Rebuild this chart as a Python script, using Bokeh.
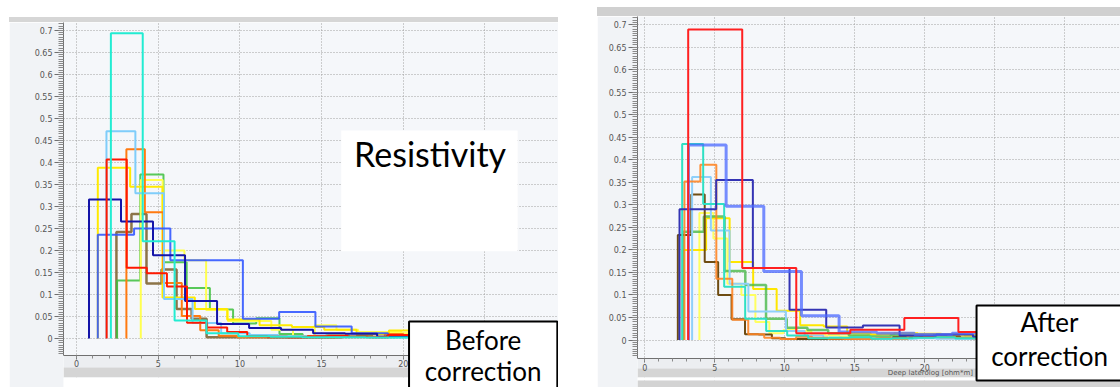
from bokeh.plotting import figure
from bokeh.models import FixedTicker, Label, BoxAnnotation, Spacer, Range1d
from bokeh.layouts import row, column
from bokeh.embed import file_html
from bokeh.resources import INLINE
import numpy as np

# ---------------- data: left panel (before correction) ----------------
L_CYAN_EDGES = [2.1, 4.05, 6.0, 7.95, 9.9, 11.85, 13.8, 15.75, 17.7, 19.65, 21.6]
L_CYAN_VALS = [0.694, 0.221, 0.041, 0.012, 0.005, 0.004, 0.003, 0.003, 0.002, 0.002]
L_NAVY_EDGES = [0.76, 2.72, 4.68, 6.64, 8.6, 10.56, 12.52, 14.48, 16.44, 18.4, 20.36, 22.32]
L_NAVY_VALS = [0.316, 0.266, 0.189, 0.085, 0.033, 0.024, 0.02, 0.012, 0.011, 0.004, 0.003]
L_BLUE_EDGES = [1.3, 3.52, 5.74, 7.96, 10.18, 12.4, 14.62, 16.84, 19.06, 21.28]
L_BLUE_VALS = [0.236, 0.25, 0.178, 0.178, 0.045, 0.06, 0.027, 0.012, 0.008]
L_SKY_EDGES = [1.83, 3.6, 5.35, 7.1, 8.85, 10.6, 12.35, 14.1, 15.85, 17.6, 19.35, 21.1]
L_SKY_VALS = [0.471, 0.33, 0.09, 0.035, 0.012, 0.008, 0.005, 0.004, 0.003, 0.003, 0.002]
L_RED_EDGES = [1.84, 3.07, 4.3, 5.53, 6.76, 7.99, 9.22, 10.45, 11.68, 12.91, 14.14,
               15.37, 16.6, 17.83, 19.06, 20.29, 21.52]
L_RED_VALS = [0.407, 0.161, 0.148, 0.118, 0.036, 0.025, 0.015, 0.005, 0.004, 0.003,
              0.005, 0.006, 0.004, 0.003, 0.008, 0.006]
L_ORANGE_EDGES = [3.05, 4.18, 5.31, 6.44, 7.57, 8.7, 9.83, 10.96, 12.09, 13.22, 14.35,
                  15.48, 16.61, 17.74, 18.87, 20.0, 21.13]
L_ORANGE_VALS = [0.43, 0.287, 0.126, 0.051, 0.019, 0.006, 0.003, 0.003, 0.004, 0.005,
                 0.004, 0.003, 0.003, 0.004, 0.01, 0.008]
L_YELLOW_EDGES = [1.3, 3.28, 5.26, 7.24, 9.22, 11.2, 13.18, 15.16, 17.14, 19.12, 21.1]
L_YELLOW_VALS = [0.388, 0.345, 0.093, 0.067, 0.043, 0.03, 0.026, 0.02, 0.01, 0.018]
L_PALEY_EDGES = [3.93, 5.27, 6.6, 7.93, 9.26, 10.59, 11.92, 13.25, 14.58, 15.91, 17.24,
                 18.57, 19.9, 21.23]
L_PALEY_VALS = [0.36, 0.2, 0.178, 0.065, 0.04, 0.04, 0.02, 0.005, 0.03, 0.02, 0.015,
                0.015, 0.012]
L_GREEN_EDGES = [2.48, 3.9, 5.32, 6.74, 8.16, 9.58, 11.0, 12.42, 13.84, 15.26, 16.68,
                 18.1, 19.52, 20.94]
L_GREEN_VALS = [0.132, 0.373, 0.173, 0.115, 0.066, 0.034, 0.046, 0.01, 0.005, 0.007,
                0.004, 0.003, 0.005]
L_BROWN_EDGES = [2.44, 3.36, 4.28, 5.2, 6.12, 7.04, 7.96, 8.88, 9.8, 10.72, 11.64, 12.56,
                 13.48, 14.4, 15.32, 16.24, 17.16, 18.08, 19.0, 19.92, 20.84]
L_BROWN_VALS = [0.242, 0.283, 0.125, 0.157, 0.067, 0.045, 0.003, 0.003, 0.003, 0.003,
                0.002, 0.002, 0.002, 0.002, 0.002, 0.004, 0.006, 0.01, 0.006, 0.004]

# ---------------- data: right panel (after correction) ----------------
R_RED_EDGES = [3.1, 6.96, 10.82, 14.68, 18.54, 22.4, 26.26]
R_RED_VALS = [0.689, 0.16, 0.015, 0.023, 0.049, 0.018]
R_BLUE_EDGES = [3.12, 5.81, 8.5, 11.19, 13.88, 16.57, 19.26, 21.95, 24.64]
R_BLUE_VALS = [0.433, 0.297, 0.152, 0.054, 0.018, 0.015, 0.012, 0.015]
R_NAVY_EDGES = [2.48, 5.1, 7.72, 10.34, 12.96, 15.58, 18.2, 20.82, 23.44, 26.06]
R_NAVY_VALS = [0.29, 0.355, 0.16, 0.067, 0.028, 0.032, 0.01, 0.012, 0.008]
R_CYAN_EDGES = [2.67, 4.17, 5.67, 7.17, 8.67, 10.17, 11.67, 13.17, 14.67, 16.17, 17.67,
                19.17, 20.67, 22.17, 23.67, 25.17]
R_CYAN_VALS = [0.435, 0.302, 0.118, 0.047, 0.02, 0.01, 0.004, 0.005, 0.006, 0.003,
               0.004, 0.005, 0.006, 0.004, 0.003]
R_ORANGE_EDGES = [2.83, 3.97, 5.11, 6.25, 7.39, 8.53, 9.67, 10.81, 11.95, 13.09, 14.23,
                  15.37, 16.51, 17.65, 18.79, 19.93, 21.07, 22.21, 23.35, 24.49]
R_ORANGE_VALS = [0.352, 0.389, 0.136, 0.045, 0.013, 0.005, 0.002, 0.007, 0.005, 0.003,
                 0.002, 0.002, 0.004, 0.003, 0.01, 0.008, 0.006, 0.005, 0.004]
R_SKY_EDGES = [3.38, 4.72, 6.06, 7.4, 8.74, 10.08, 11.42, 12.76, 14.1, 15.44, 16.78,
               18.12, 19.46, 20.8, 22.14, 23.48, 24.82]
R_SKY_VALS = [0.362, 0.243, 0.125, 0.063, 0.063, 0.02, 0.01, 0.005, 0.004, 0.003, 0.002,
              0.003, 0.004, 0.003, 0.002, 0.002]
R_BROWN_EDGES = [2.36, 3.32, 4.28, 5.24, 6.2, 7.16, 8.12, 9.08, 10.04, 11.0, 11.96,
                 12.92, 13.88, 14.84, 15.8, 16.76, 17.72, 18.68, 19.64, 20.6, 21.56,
                 22.52, 23.48, 24.44]
R_BROWN_VALS = [0.233, 0.323, 0.173, 0.1, 0.046, 0.013, 0.012, 0.004, 0.002, 0.002,
                0.002, 0.002, 0.002, 0.003, 0.002, 0.003, 0.006, 0.005, 0.006, 0.01,
                0.008, 0.004, 0.003]
R_GREEN_EDGES = [2.74, 4.22, 5.7, 7.18, 8.66, 10.14, 11.62, 13.1, 14.58, 16.06, 17.54,
                 19.02, 20.5, 21.98, 23.46, 24.94]
R_GREEN_VALS = [0.24, 0.274, 0.153, 0.122, 0.047, 0.027, 0.022, 0.015, 0.01, 0.008,
                0.01, 0.007, 0.006, 0.005, 0.004]
R_YELLOW_EDGES = [2.7, 4.38, 6.06, 7.74, 9.42, 11.1, 12.78, 14.46, 16.14, 17.82, 19.5,
                  21.18, 22.86, 24.54]
R_YELLOW_VALS = [0.2, 0.27, 0.173, 0.113, 0.065, 0.033, 0.03, 0.015, 0.012, 0.015,
                 0.014, 0.013, 0.01]
R_PALEY_EDGES = [3.9, 4.9, 5.9, 6.9, 7.9, 8.9, 9.9, 10.9, 11.9, 12.9, 13.9, 14.9, 15.9,
                 16.9, 17.9, 18.9, 19.9, 20.9, 21.9, 22.9, 23.9, 24.9]
R_PALEY_VALS = [0.282, 0.225, 0.125, 0.1, 0.04, 0.015, 0.022, 0.02, 0.012, 0.01, 0.008,
                0.01, 0.012, 0.015, 0.013, 0.012, 0.01, 0.008, 0.01, 0.012, 0.01]

Y_TICKS = [0, 0.05, 0.1, 0.15, 0.2, 0.25, 0.3, 0.35, 0.4, 0.45, 0.5, 0.55, 0.6, 0.65, 0.7]
Y_TICK_LABELS = ["0", "0.05", "0.1", "0.15", "0.2", "0.25", "0.3", "0.35", "0.4",
                 "0.45", "0.5", "0.55", "0.6", "0.65", "0.7"]
X_TICKS = [0, 5, 10, 15, 20]
X_TICK_LABELS = ["0", "5", "10", "15", "20"]
X_GRID = [0, 5, 10, 15, 20, 25, 30]

LEFT_SERIES = [
    (L_BROWN_EDGES, L_BROWN_VALS, "#8c7448", 2.5, 1.0),
    (L_GREEN_EDGES, L_GREEN_VALS, "#3cc03c", 2.0, 0.85),
    (L_PALEY_EDGES, L_PALEY_VALS, "#ffff50", 2.0, 1.0),
    (L_YELLOW_EDGES, L_YELLOW_VALS, "#ffea00", 2.0, 1.0),
    (L_ORANGE_EDGES, L_ORANGE_VALS, "#ff7a10", 2.0, 1.0),
    (L_SKY_EDGES, L_SKY_VALS, "#7fcdfa", 2.0, 1.0),
    (L_BLUE_EDGES, L_BLUE_VALS, "#3358ff", 2.0, 0.9),
    (L_NAVY_EDGES, L_NAVY_VALS, "#1414a8", 2.0, 1.0),
    (L_RED_EDGES, L_RED_VALS, "#ff1800", 2.0, 1.0),
    (L_CYAN_EDGES, L_CYAN_VALS, "#22ecd2", 2.0, 1.0),
]
RIGHT_SERIES = [
    (R_PALEY_EDGES, R_PALEY_VALS, "#ffff60", 2.0, 1.0),
    (R_YELLOW_EDGES, R_YELLOW_VALS, "#ffe600", 2.0, 1.0),
    (R_GREEN_EDGES, R_GREEN_VALS, "#48b848", 2.5, 0.8),
    (R_BROWN_EDGES, R_BROWN_VALS, "#6e4c12", 2.0, 1.0),
    (R_SKY_EDGES, R_SKY_VALS, "#8fd0fa", 2.0, 1.0),
    (R_ORANGE_EDGES, R_ORANGE_VALS, "#ff8424", 2.0, 0.9),
    (R_CYAN_EDGES, R_CYAN_VALS, "#2ee0c4", 2.0, 1.0),
    (R_NAVY_EDGES, R_NAVY_VALS, "#3434b4", 2.0, 1.0),
    (R_BLUE_EDGES, R_BLUE_VALS, "#4a68ff", 3.0, 0.75),
    (R_RED_EDGES, R_RED_VALS, "#ff2020", 2.0, 1.0),
]

BOX_FONT = "Lato"


def outline(edges, vals):
    xs = [edges[0]]
    ys = [0.0]
    for i, v in enumerate(vals):
        xs += [edges[i], edges[i + 1]]
        ys += [v, v]
    xs.append(edges[len(vals)])
    ys.append(0.0)
    return xs, ys


def make_panel(width, height, left_border, xr, yr, axis_y, series, x_minor_max, bands):
    p = figure(width=width, height=height, output_backend="svg", toolbar_location=None,
               x_range=Range1d(*xr), y_range=Range1d(*yr))
    p.min_border_left = left_border
    p.min_border_right = 0
    p.min_border_top = 0
    p.min_border_bottom = 0
    p.background_fill_color = "#f5f7fa"
    p.border_fill_color = "#f1f3f6"
    p.outline_line_color = None

    p.xgrid.ticker = FixedTicker(ticks=X_GRID)
    p.ygrid.ticker = FixedTicker(ticks=Y_TICKS)
    for g in (p.xgrid[0], p.ygrid[0]):
        g.grid_line_color = "#a0a0a0"
        g.grid_line_dash = "1 2"
        g.grid_line_width = 1

    # bands below the x axis (area outside the plotting region of the original)
    for top, bottom, color in bands:
        p.add_layout(BoxAnnotation(top=top, bottom=bottom, fill_color=color,
                                   fill_alpha=1.0, line_color=None, level="underlay"))

    yminor = list(np.round(np.arange(-0.035, 0.716, 0.005), 4))
    p.yaxis.ticker = FixedTicker(ticks=Y_TICKS, minor_ticks=yminor)
    p.yaxis.major_label_overrides = {t: s for t, s in zip(Y_TICKS, Y_TICK_LABELS)}
    p.yaxis.bounds = (axis_y, yr[1])
    xminor = list(np.arange(0.0, x_minor_max + 0.5, 1.0))
    p.xaxis.ticker = FixedTicker(ticks=X_TICKS, minor_ticks=xminor)
    p.xaxis.major_label_overrides = {t: s for t, s in zip(X_TICKS, X_TICK_LABELS)}
    p.xaxis.fixed_location = axis_y

    for ax in (p.xaxis[0], p.yaxis[0]):
        ax.axis_line_color = "#707070"
        ax.major_tick_line_color = "#707070"
        ax.minor_tick_line_color = "#8a8a8a"
        ax.major_label_text_font = "DejaVu Sans"
        ax.major_label_text_font_size = "8px"
        ax.major_label_text_color = "#555555"
        ax.major_label_standoff = 2
    p.yaxis.major_tick_out = 9
    p.yaxis.major_tick_in = 0
    p.yaxis.minor_tick_out = 5
    p.yaxis.minor_tick_in = 0
    p.xaxis.major_tick_out = 4
    p.xaxis.major_tick_in = 0
    p.xaxis.minor_tick_out = 3
    p.xaxis.minor_tick_in = 0
    p.xaxis.major_label_standoff = 1

    for edges, vals, color, lw, alpha in series:
        xs, ys = outline(edges, vals)
        p.line(xs, ys, line_color=color, line_width=lw, line_alpha=alpha)
    return p


# ---- left panel: frame 22..387 px, x=0 at px 76, 16.27 px/unit, y=0 at px 338 ----
left = make_panel(549, 365, 54, (-0.8, 29.5), (-0.1114, 0.7182), -0.0386,
                  LEFT_SERIES, 29,
                  [(-0.0386, -0.0659, "#eceef1"), (-0.0659, -0.0886, "#d5d5d5"),
                   (-0.0886, None, "#ffffff")])
left.add_layout(BoxAnnotation(left=16.2, right=27.0, bottom=0.198, top=0.473,
                              fill_color="white", fill_alpha=1.0, line_color=None))
left.add_layout(Label(x=21.64, y=0.467, text="Resistivity", text_align="center",
                      text_baseline="top", text_font=BOX_FONT,
                      text_font_size="34px", text_color="black"))
left.add_layout(Label(x=24.89, y=0.0386, text="Before", text_align="center",
                      text_baseline="top", text_font=BOX_FONT, text_font_size="26px",
                      text_color="black", text_line_height=1.0,
                      background_fill_color="white", border_line_color="black",
                      border_line_width=2,
                      padding=dict(left=36, right=36, top=2, bottom=40)))
left.add_layout(Label(x=24.89, y=-0.0386, text="correction", text_align="center",
                      text_baseline="top", text_font=BOX_FONT,
                      text_font_size="26px", text_color="black"))

# ---- right panel: frame 16..387 px, x=0 at px 644.3, 14 px/unit, y=0 at px 339.5 ----
right = make_panel(523, 371, 40, (-0.521, 33.98), (-0.1054, 0.7179), -0.0411,
                   RIGHT_SERIES, 33,
                   [(-0.0411, -0.0633, "#eceef1"), (-0.0633, -0.0832, "#d5d5d5"),
                    (-0.0832, -0.0899, "#ffffff"), (-0.0899, None, "#d3d3d3")])
right.add_layout(Label(x=20.4, y=-0.0743, text="Deep laterolog [ohm*m]",
                       text_align="center", text_baseline="middle",
                       text_font="DejaVu Sans", text_font_size="7px",
                       text_color="#555555"))
right.add_layout(Label(x=28.91, y=0.0766, text="After", text_align="center",
                       text_baseline="top", text_font=BOX_FONT, text_font_size="26px",
                       text_color="black", text_line_height=1.0,
                       background_fill_color="white", border_line_color="black",
                       border_line_width=2,
                       padding=dict(left=44, right=44, top=1, bottom=42)))
right.add_layout(Label(x=28.91, y=0.0, text="correction", text_align="center",
                       text_baseline="top", text_font=BOX_FONT,
                       text_font_size="26px", text_color="black"))

layout = row(Spacer(width=9, height=10),
             column(Spacer(width=549, height=17),
                    Spacer(width=549, height=5, styles={"background-color": "#d6d6d6"}),
                    left),
             Spacer(width=39, height=10),
             column(Spacer(width=523, height=7),
                    Spacer(width=523, height=9, styles={"background-color": "#d0d0d0"}),
                    right))

open("out.html", "w").write(file_html(layout, INLINE))
